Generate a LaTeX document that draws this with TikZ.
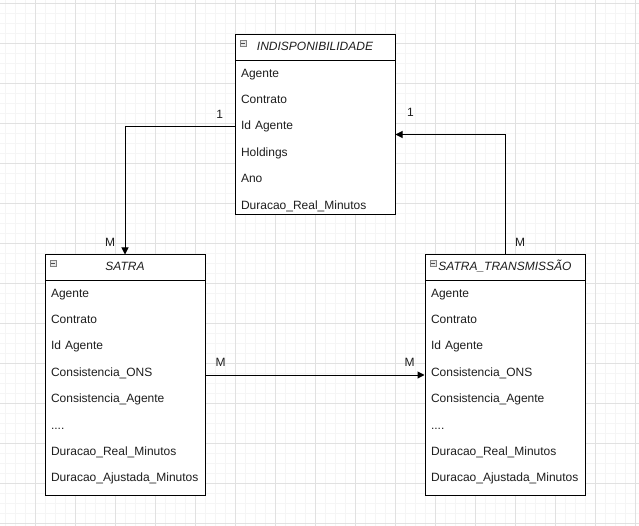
\documentclass[tikz,border=0pt]{standalone}
\usepackage{fontspec}
\setmainfont{Liberation Sans}
\usepackage{tikz}
\usetikzlibrary{arrows.meta, positioning, calc}
\definecolor{gridminor}{RGB}{245,245,245}
\definecolor{gridmajor}{RGB}{225,225,225}
\definecolor{iconfill}{RGB}{232,232,232}
\definecolor{textgray}{RGB}{30,30,30}

\begin{document}
\begin{tikzpicture}[
  x=1pt, y=-1pt,
  node distance=0pt,
  entity/.style={draw, line width=1pt, minimum width=160pt, inner sep=0pt},
  etitle/.style={minimum width=160pt, minimum height=26pt, inner sep=0pt,
              text height=9pt, text depth=3pt,
              font=\fontsize{12}{14}\selectfont\itshape, text=textgray},
  attr/.style={minimum width=160pt, minimum height=26pt, text width=148pt,
              align=left, inner sep=0pt, text height=9pt, text depth=3pt,
              font=\fontsize{12}{14}\selectfont, text=textgray},
  card/.style={font=\fontsize{12}{14}\selectfont, text=textgray, inner sep=0pt},
  rel/.style={-{Triangle[length=7pt, width=7pt]}, line width=1pt},
  collapse/.style={draw=gray, fill=iconfill, line width=0.5pt, minimum size=6pt,
              inner sep=0pt,
              path picture={\draw[black!70, line width=0.7pt]
                ($(path picture bounding box.west)+(1.2pt,0)$) --
                ($(path picture bounding box.east)+(-1.2pt,0)$);}},
]
\useasboundingbox (0,0) rectangle (639,526);

% ── grid ─────────────────────────────────────────────────────
\foreach \gx in {5,15,...,635} \draw[gridminor, line width=0.5pt] (\gx,0) -- (\gx,526);
\foreach \gy in {3,13,...,523} \draw[gridminor, line width=0.5pt] (0,\gy) -- (639,\gy);
\foreach \gx in {35,75,...,635} \draw[gridmajor, line width=0.6pt] (\gx,0) -- (\gx,526);
\foreach \gy in {3,43,...,523} \draw[gridmajor, line width=0.6pt] (0,\gy) -- (639,\gy);

% ── INDISPONIBILIDADE ────────────────────────────────────────
\node[entity, fill=white, minimum height=180pt] (ind) at (315,125) {};
\node[etitle, below=0pt of ind.north] (indT) {INDISPONIBILIDADE};
\node[collapse, anchor=north west] (indIc) at ($(ind.north west)+(5,6)$) {};
\draw[line width=1pt] (indT.south west) -- (indT.south east);
\node[attr, below=of indT] (indAg) {Agente};
\node[attr, below=of indAg] (indCt) {Contrato};
\node[attr, below=of indCt] (indId) {Id Agente};
\node[attr, below=of indId] (indHo) {Holdings};
\node[attr, below=of indHo] (indAno) {Ano};
\node[attr, below=of indAno] (indDr) {Duracao\_Real\_Minutos};

% ── SATRA ────────────────────────────────────────────────────
\node[entity, fill=white, minimum height=240pt] (satra) at (125,375) {};
\node[etitle, below=0pt of satra.north] (satraT) {SATRA};
\node[collapse, anchor=north west] (satraIc) at ($(satra.north west)+(5,6)$) {};
\draw[line width=1pt] (satraT.south west) -- (satraT.south east);
\node[attr, below=of satraT] (satAg) {Agente};
\node[attr, below=of satAg] (satCt) {Contrato};
\node[attr, below=of satCt] (satId) {Id Agente};
\node[attr, below=of satId] (satCo) {Consistencia\_ONS};
\node[attr, below=of satCo] (satCa) {Consistencia\_Agente};
\node[attr, below=of satCa] (satEt) {....};
\node[attr, below=of satEt] (satDr) {Duracao\_Real\_Minutos};
\node[attr, below=of satDr] (satDa) {Duracao\_Ajustada\_Minutos};

% ── SATRA_TRANSMISSÃO ────────────────────────────────────────
\node[entity, fill=white, minimum height=240pt] (trans) at (505,375) {};
\node[etitle, below=0pt of trans.north] (transT) {SATRA\_TRANSMISSÃO};
\node[collapse, anchor=north west] (transIc) at ($(trans.north west)+(5,6)$) {};
\draw[line width=1pt] (transT.south west) -- (transT.south east);
\node[attr, below=of transT] (trAg) {Agente};
\node[attr, below=of trAg] (trCt) {Contrato};
\node[attr, below=of trCt] (trId) {Id Agente};
\node[attr, below=of trId] (trCo) {Consistencia\_ONS};
\node[attr, below=of trCo] (trCa) {Consistencia\_Agente};
\node[attr, below=of trCa] (trEt) {....};
\node[attr, below=of trEt] (trDr) {Duracao\_Real\_Minutos};
\node[attr, below=of trDr] (trDa) {Duracao\_Ajustada\_Minutos};

% ── relations ────────────────────────────────────────────────
\coordinate (indIn) at ($(ind.north east)+(0,100)$);
\draw[rel] (indId.west) -| (satra.north);
\draw[rel] (trans.north) |- (indIn);
\draw[rel] (satra.east) -- (trans.west);

\node[card] (c1a) at ($(indId.west)+(-15,-13)$) {1};
\node[card] (cMa) at ($(satra.north)+(-15,-12)$) {M};
\node[card] (c1b) at ($(indIn)+(15,-22)$) {1};
\node[card] (cMb) at ($(trans.north)+(15,-12)$) {M};
\node[card] (cMc) at ($(satra.east)+(15,-13)$) {M};
\node[card] (cMd) at ($(trans.west)+(-15,-13)$) {M};

\end{tikzpicture}
\end{document}
